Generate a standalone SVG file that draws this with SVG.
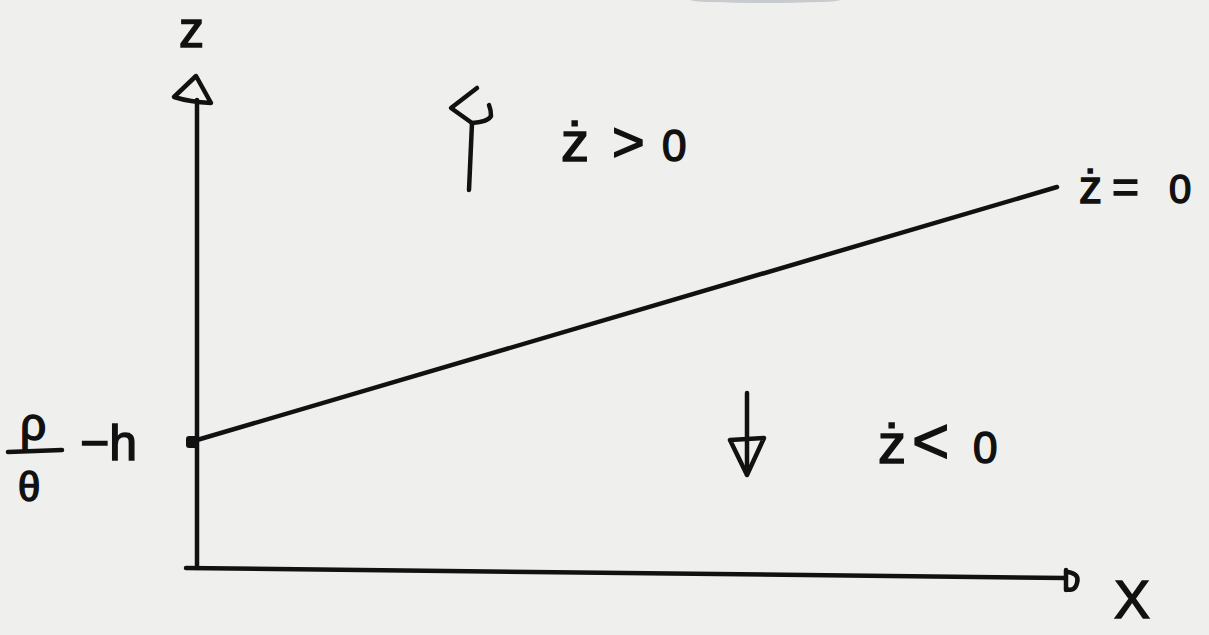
<svg xmlns="http://www.w3.org/2000/svg" width="1209" height="635" viewBox="0 0 1209 635">
<style>
.ink{fill:none;stroke:#111;stroke-width:4.5;stroke-linecap:round;stroke-linejoin:round}
.lbl{font-family:"Liberation Sans","DejaVu Sans",sans-serif;fill:#111;stroke:#111;stroke-width:1.5}
</style>
<rect x="0" y="0" width="1209" height="635" fill="#efefed"/>
<ellipse cx="765" cy="0" rx="75" ry="3" fill="#7f8a96" opacity="0.35"/>
<g id="connectors">
  <g id="z-axis">
    <path class="ink" d="M197,568 L197,100"/>
    <path class="ink" d="M196,76 L174,97 Q190,102 211,103 Z"/>
  </g>
  <g id="x-axis">
    <path class="ink" d="M186,568 L1066,578"/>
    <path class="ink" d="M1066,570 L1066,590 M1068,572 Q1080,574 1077,583 Q1075,592 1066,589"/>
  </g>
  <g id="zdot-zero-line">
    <path class="ink" d="M197,440 L1057,187"/>
    <rect x="186" y="436" width="12" height="12" rx="3" fill="#111"/>
  </g>
  <g id="up-arrow">
    <path class="ink" d="M469,190 L472,123"/>
    <path class="ink" d="M477,88 L451,108 L472,123 Q488,122 491,116 Q491,110 489,105"/>
  </g>
  <g id="down-arrow">
    <path class="ink" d="M747,393 L747,472"/>
    <path class="ink" d="M730,440 L764,438 L747,475 Z"/>
  </g>
</g>
<g id="label-z">
  <text class="lbl" x="179" y="47" font-size="50">z</text>
</g>
<g id="label-zdot-pos">
  <text class="lbl" font-size="56" y="161"><tspan x="561">ż</tspan><tspan x="612">&gt;</tspan><tspan x="662" font-size="44">0</tspan></text>
</g>
<g id="label-zdot-zero">
  <text class="lbl" font-size="46" y="203"><tspan x="1079">ż</tspan><tspan x="1112">=</tspan><tspan x="1169" font-size="40">0</tspan></text>
</g>
<g id="label-zdot-neg">
  <text class="lbl" font-size="56" y="463"><tspan x="878">ż</tspan><tspan x="912" font-size="64">&lt;</tspan><tspan x="973" font-size="44">0</tspan></text>
</g>
<g id="label-intercept">
  <text class="lbl" x="20" y="440" font-size="46">ρ</text>
  <path class="ink" d="M8,452 L62,450"/>
  <text class="lbl" x="18" y="501" font-size="40">θ</text>
  <text class="lbl" x="80" y="460" font-size="50">−h</text>
</g>
<g id="label-x">
  <text class="lbl" x="1114" y="618" font-size="54">X</text>
</g>
</svg>
